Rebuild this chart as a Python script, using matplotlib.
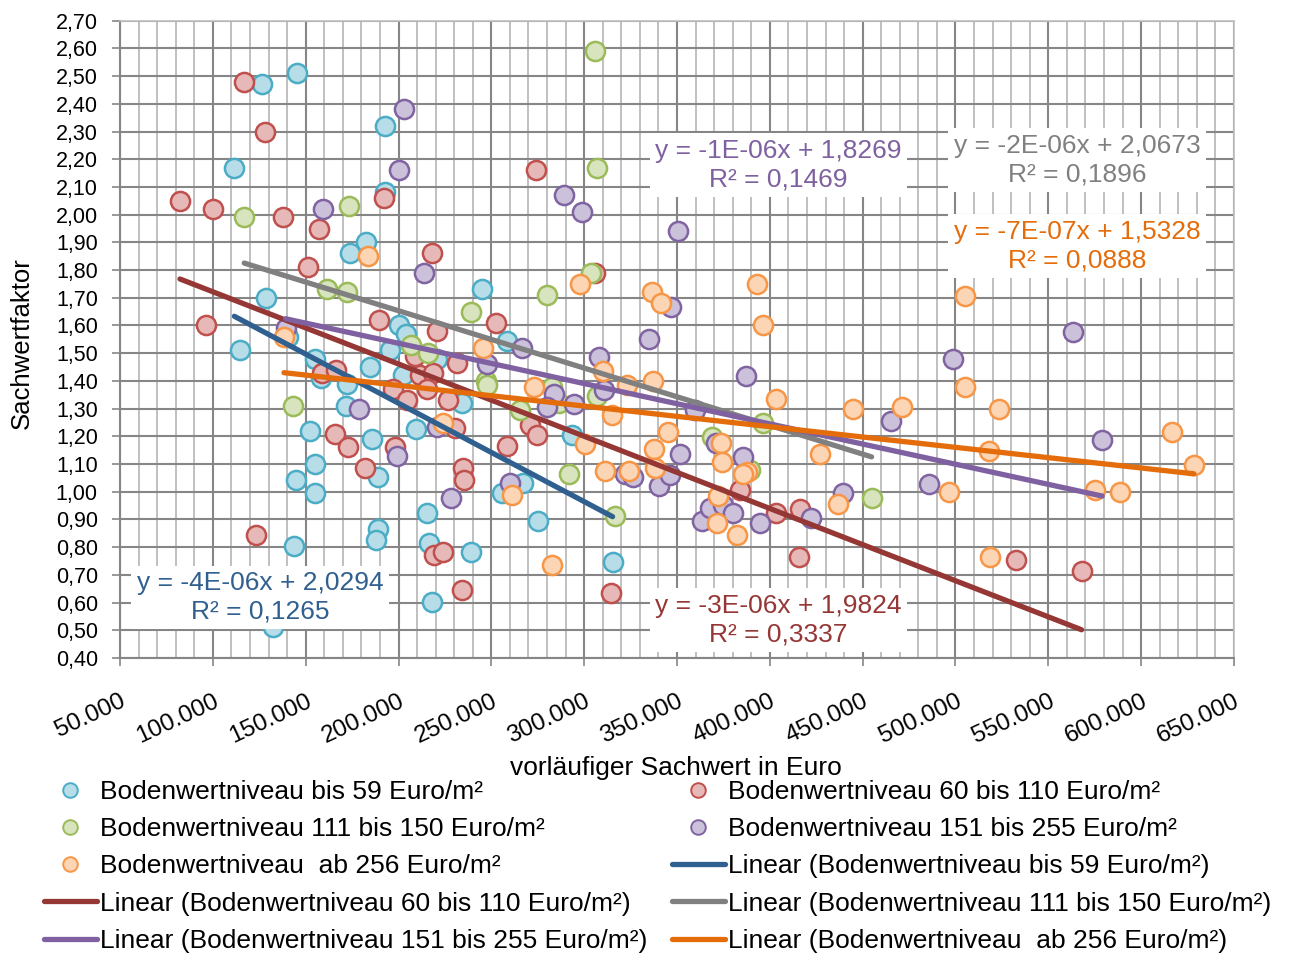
import matplotlib
matplotlib.use('Agg')
import matplotlib.pyplot as plt
from matplotlib.ticker import MultipleLocator, FuncFormatter
from matplotlib.lines import Line2D
import numpy as np

plt.rcParams['font.family'] = ['Liberation Sans', 'DejaVu Sans']

# ---------------- data (x in Euro, y = Sachwertfaktor) ----------------
teal_x = [126300, 145500, 192700, 111600, 192700, 182300, 173900, 128500, 114600, 200400,
          204000, 220500, 195400, 140600, 155000, 158200, 172000, 184600, 202600, 171600,
          152300, 185500, 209400, 155000, 188700, 144600, 155000, 215100, 188700, 187900,
          143700, 216500, 218200, 132200, 245100, 258200, 234000, 238800, 267200, 255500,
          274900, 293700, 315300]
teal_y = [2.47, 2.51, 2.32, 2.17, 2.08, 1.90, 1.86, 1.70, 1.51, 1.60,
          1.57, 1.48, 1.51, 1.56, 1.48, 1.41, 1.39, 1.45, 1.42, 1.31,
          1.22, 1.19, 1.225, 1.10, 1.055, 1.044, 0.996, 0.924, 0.864, 0.827,
          0.805, 0.815, 0.603, 0.512, 1.73, 1.545, 1.32, 0.783, 1.03, 0.994,
          0.894, 1.204, 0.745]

red_x = [116900, 128000, 192200, 82300, 100300, 137600, 157200, 217900, 151400, 96300,
         189700, 221000, 208900, 158600, 166300, 211600, 218400, 197200, 215100, 204400,
         226800, 165800, 173000, 198100, 181900, 123200, 219200, 224000, 273900, 305800,
         252500, 231300, 270800, 274400, 258200, 230400, 234900, 235400, 383900, 234300,
         314700, 403300, 416200, 415900, 532400, 567900]
red_y = [2.48, 2.30, 2.06, 2.05, 2.02, 1.99, 1.95, 1.86, 1.81, 1.60,
         1.62, 1.58, 1.49, 1.43, 1.44, 1.42, 1.43, 1.37, 1.37, 1.33,
         1.33, 1.21, 1.16, 1.16, 1.085, 0.843, 0.771, 0.783, 2.16, 1.79,
         1.61, 1.465, 1.24, 1.204, 1.165, 1.229, 1.084, 1.044, 1.008, 0.645,
         0.633, 0.925, 0.936, 0.765, 0.753, 0.713]

green_x = [116900, 173300, 161300, 172000, 207000, 216000, 143300, 305800, 307000, 303500,
           280200, 238800, 247100, 247800, 307000, 282500, 286600, 265400, 369000, 389300,
           396100, 292000, 316600, 454800]
green_y = [1.99, 2.03, 1.73, 1.72, 1.53, 1.50, 1.31, 2.59, 2.17, 1.79,
           1.71, 1.65, 1.40, 1.385, 1.345, 1.379, 1.319, 1.295, 1.198, 1.078,
           1.247, 1.064, 0.913, 0.976]

purple_x = [203000, 200400, 159500, 213900, 139200, 178900, 199300, 220500, 228500, 289100,
            298600, 350700, 346600, 335000, 266300, 247800, 308000, 310700, 386900, 359700,
            283800, 279800, 294500, 351600, 371000, 385700, 322000, 326500, 340300, 346200,
            260000, 439600, 363200, 367800, 375000, 380000, 394700, 422000, 563500, 498800,
            465100, 579000, 485800]
purple_y = [2.38, 2.16, 2.02, 1.79, 1.59, 1.30, 1.13, 1.235, 0.976, 2.07,
            2.01, 1.94, 1.665, 1.55, 1.52, 1.46, 1.487, 1.367, 1.417, 1.295,
            1.352, 1.307, 1.316, 1.136, 1.177, 1.126, 1.064, 1.052, 1.020, 1.06,
            1.03, 0.994, 0.895, 0.94, 0.952, 0.922, 0.886, 0.907, 1.577, 1.478,
            1.256, 1.186, 1.027]

orange_x = [183400, 138300, 224100, 297800, 336700, 341200, 393200, 396100, 245600, 310300,
            322900, 337300, 403100, 273200, 315100, 300400, 344900, 337700, 373500, 374000,
            387500, 385700, 427000, 444800, 324100, 311200, 338100, 261400, 372200, 436500,
            282500, 371300, 382400, 505100, 505100, 471300, 523600, 518200, 616400, 628400,
            496600, 575400, 588600, 518600]
orange_y = [1.85, 1.56, 1.247, 1.75, 1.72, 1.68, 1.75, 1.60, 1.52, 1.437,
            1.385, 1.40, 1.334, 1.379, 1.277, 1.174, 1.216, 1.156, 1.177, 1.106,
            1.072, 1.064, 1.136, 1.297, 1.074, 1.075, 1.084, 0.988, 0.984, 0.955,
            0.735, 0.886, 0.843, 1.707, 1.377, 1.306, 1.297, 1.147, 1.216, 1.096,
            0.998, 1.008, 0.998, 0.763]

series_names = ["Bodenwertniveau bis 59 Euro/m²",
                "Bodenwertniveau 60 bis 110 Euro/m²",
                "Bodenwertniveau 111 bis 150 Euro/m²",
                "Bodenwertniveau 151 bis 255 Euro/m²",
                "Bodenwertniveau  ab 256 Euro/m²"]

# linear trend lines (slope, intercept) as shown in chart
trend_slope = [-3.55e-06, -2.607e-06, -2.07e-06, -1.455e-06, -7.45e-07]
trend_intercept = [2.0294, 1.9824, 2.0673, 1.8269, 1.5328]
trend_labels = ["y = -4E-06x + 2,0294\nR² = 0,1265",
                "y = -3E-06x + 1,9824\nR² = 0,3337",
                "y = -2E-06x + 2,0673\nR² = 0,1896",
                "y = -1E-06x + 1,8269\nR² = 0,1469",
                "y = -7E-07x + 1,5328\nR² = 0,0888"]

# ---------------- styles ----------------
edge_cols = ['#4bacc6', '#c0504d', '#9bbb59', '#8064a2', '#f79646']
fill_cols = ['#b7dee8', '#e6b9b8', '#d7e4bd', '#ccc1da', '#fcd5b5']
trend_cols = ['#30608f', '#953735', '#808080', '#7f60a0', '#e46c0a']
label_pos = [(0.1257, 0.0954), (0.5907, 0.0596), (0.8591, 0.7815),
             (0.5907, 0.7736), (0.8591, 0.6466)]

xs = [teal_x, red_x, green_x, purple_x, orange_x]
ys = [teal_y, red_y, green_y, purple_y, orange_y]

W, H = 1297, 955
fig = plt.figure(figsize=(W / 100, H / 100), dpi=100)
ax = fig.add_axes([120 / W, 1 - 658 / H, 1114 / W, 637.3 / H])

ax.set_xlim(50000, 650000)
ax.set_ylim(0.40, 2.70)
ax.xaxis.set_major_locator(MultipleLocator(50000))
ax.xaxis.set_minor_locator(MultipleLocator(10000))
ax.yaxis.set_major_locator(MultipleLocator(0.10))
ax.xaxis.set_major_formatter(FuncFormatter(lambda v, p: f"{int(round(v)):,}".replace(',', '.')))
ax.yaxis.set_major_formatter(FuncFormatter(lambda v, p: f"{v:.2f}".replace('.', ',')))

ax.set_axisbelow(True)
ax.grid(which='minor', axis='x', color='#c0c0c0', lw=1.4)
ax.grid(which='major', axis='x', color='#868686', lw=1.5)
ax.grid(which='major', axis='y', color='#868686', lw=1.5)

for s in ['top', 'right']:
    ax.spines[s].set_color('#bfbfbf')
    ax.spines[s].set_linewidth(1.2)
for s in ['left', 'bottom']:
    ax.spines[s].set_color('#868686')
    ax.spines[s].set_linewidth(1.5)

ax.tick_params(axis='both', which='major', direction='out', length=6, width=1.2,
               color='#868686')
ax.tick_params(axis='x', which='minor', length=0)
ax.tick_params(axis='y', pad=10, labelsize=15.5)
ax.tick_params(axis='x', pad=17, labelsize=17.5)
for lab in ax.get_xticklabels():
    lab.set_rotation(25)
    lab.set_ha('right')
    lab.set_va('top')
    lab.set_rotation_mode('anchor')

for i in range(5):
    ax.scatter(xs[i], ys[i], s=190, facecolor=fill_cols[i], edgecolor=edge_cols[i],
               linewidth=1.8, zorder=3)

for i in range(5):
    x0, x1 = min(xs[i]), max(xs[i])
    xx = np.array([x0, x1])
    ax.plot(xx, trend_intercept[i] + trend_slope[i] * xx, color=trend_cols[i], lw=3.8,
            solid_capstyle='round', zorder=4)

for i in range(5):
    ax.text(label_pos[i][0], label_pos[i][1], trend_labels[i], transform=ax.transAxes,
            ha='center', va='center', multialignment='center', color=trend_cols[i],
            fontsize=19, linespacing=1.25, zorder=6,
            bbox=dict(boxstyle='square,pad=0.2', fc='white', ec='none'))

fig.text(676 / W, 1 - 768 / H, "vorläufiger Sachwert in Euro", ha='center', va='center',
         fontsize=19)
fig.text(22 / W, 1 - 343 / H, "Sachwertfaktor", ha='center', va='center', rotation=90,
         fontsize=18.5)

# ---------------- legend ----------------
def mk(i):
    return Line2D([], [], marker='o', ls='none', ms=10.5, mfc=fill_cols[i],
                  mec=edge_cols[i], mew=1.4)

def ln(i):
    return Line2D([], [], color=trend_cols[i], lw=3.8, solid_capstyle='round')

col1 = [(mk(0), series_names[0]), (mk(2), series_names[2]), (mk(4), series_names[4]),
        (ln(1), "Linear (" + series_names[1] + ")"), (ln(3), "Linear (" + series_names[3] + ")")]
col2 = [(mk(1), series_names[1]), (mk(3), series_names[3]),
        (ln(0), "Linear (" + series_names[0] + ")"), (ln(2), "Linear (" + series_names[2] + ")"),
        (ln(4), "Linear (" + series_names[4] + ")")]

common = dict(loc='upper left', frameon=False, fontsize=19, borderpad=0, borderaxespad=0,
              handlelength=2.0, handletextpad=0.12, labelspacing=0.5)
fig.legend([h for h, _ in col1], [t for _, t in col1],
           bbox_to_anchor=(44 / W, 1 - 780 / H), **common)
fig.legend([h for h, _ in col2], [t for _, t in col2],
           bbox_to_anchor=(672 / W, 1 - 780 / H), **common)

fig.savefig('out.png', dpi=100)
